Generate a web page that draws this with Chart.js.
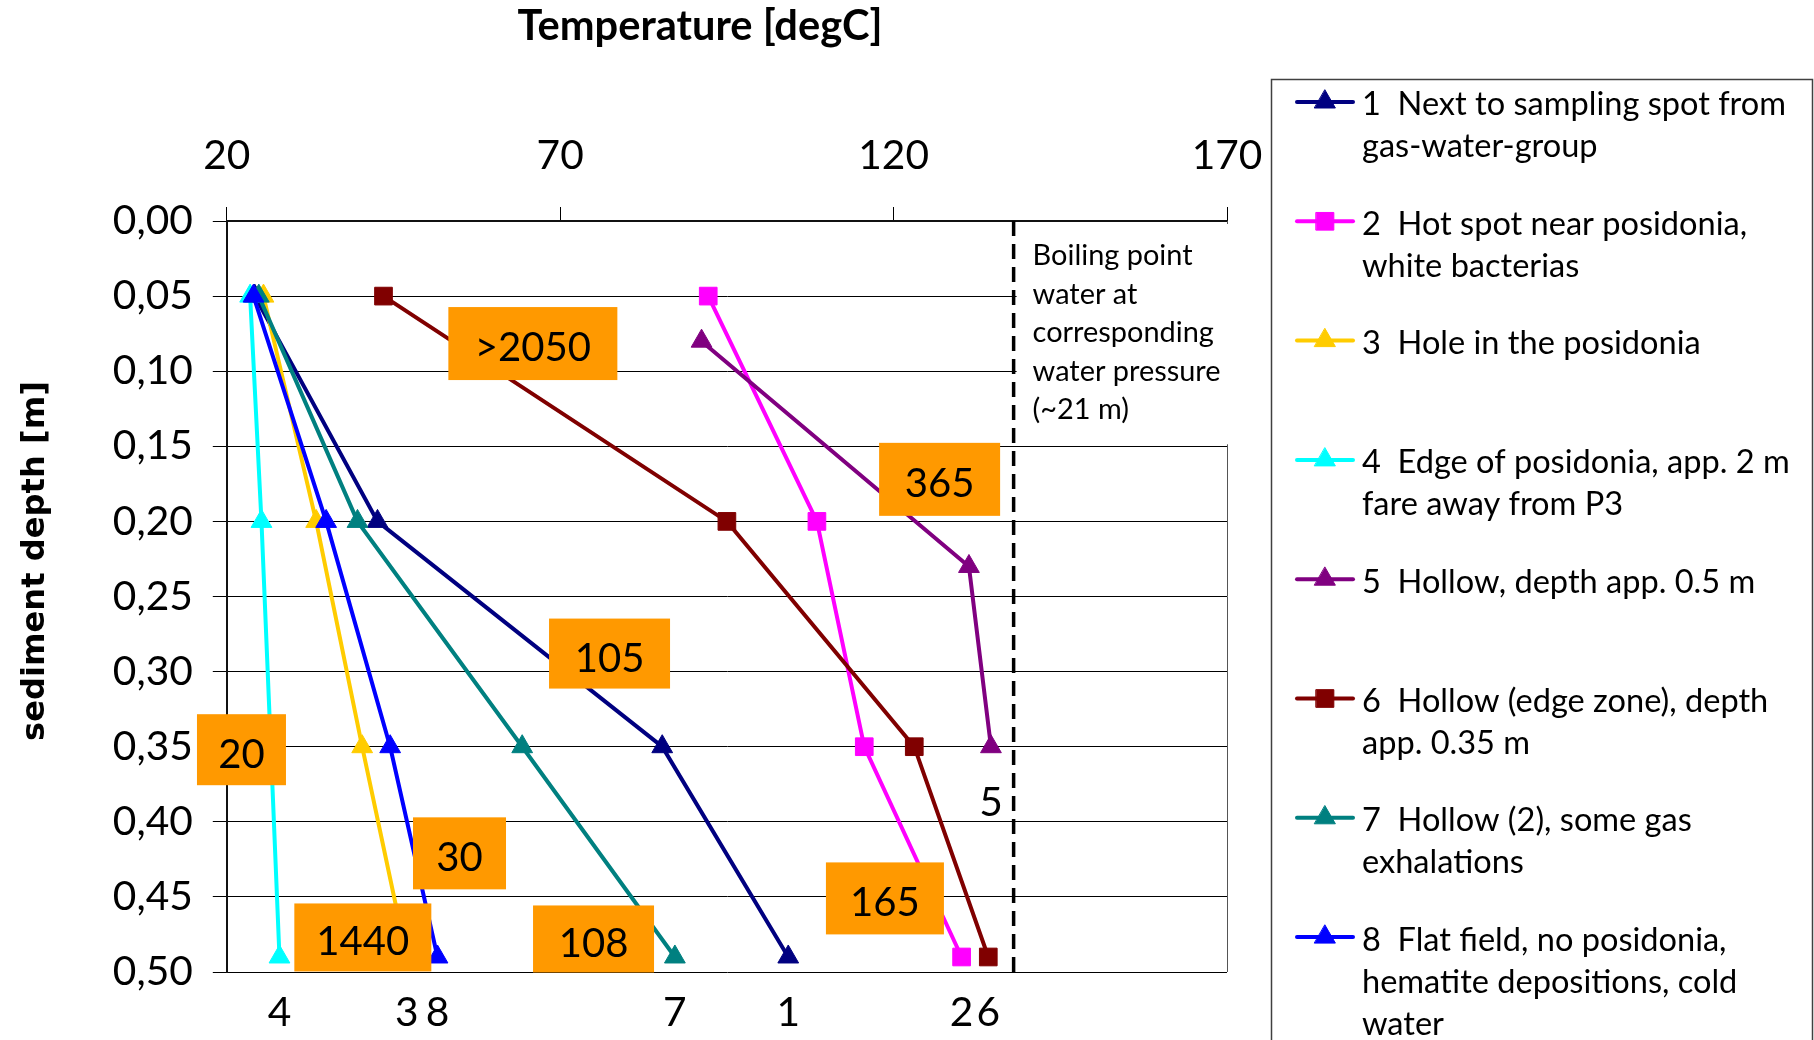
<!DOCTYPE html>
<html>
<head>
<meta charset="utf-8">
<script src="https://cdn.jsdelivr.net/npm/chart.js@4/dist/chart.umd.min.js"></script>
<style>
html,body{margin:0;padding:0;background:#fff;}
#wrap{width:1814px;height:1040px;position:relative;}
</style>
</head>
<body>
<div id="wrap"><canvas id="c"></canvas></div>
<script>
// ---------------- data ----------------
const xTickValues = [20, 70, 120, 170];
const yTickValues = [0, 0.05, 0.10, 0.15, 0.20, 0.25, 0.30, 0.35, 0.40, 0.45, 0.50];
const yTickLabels = ['0,00','0,05','0,10','0,15','0,20','0,25','0,30','0,35','0,40','0,45','0,50'];

const xTitle = 'Temperature [degC]';
const yTitle = 'sediment depth [m]';

const seriesIds = ['1','2','3','4','5','6','7','8'];
const seriesNames = [
  ['1  Next to sampling spot from', 'gas-water-group'],
  ['2  Hot spot near posidonia,', 'white bacterias'],
  ['3  Hole in the posidonia'],
  ['4  Edge of posidonia, app. 2 m', 'fare away from P3'],
  ['5  Hollow, depth app. 0.5 m'],
  ['6  Hollow (edge zone), depth', 'app. 0.35 m'],
  ['7  Hollow (2), some gas', 'exhalations'],
  ['8  Flat field, no posidonia,', 'hematite depositions, cold', 'water']
];

const depthStd    = [0.05, 0.20, 0.35, 0.49];
const depthHollow = [0.08, 0.23, 0.35];

const temp1 = [24.2, 42.6, 85.3, 104.2];
const temp2 = [92.2, 108.5, 115.6, 130.2];
const temp3 = [25.5, 33.4, 40.3, 47.0];
const temp4 = [23.5, 25.2, 26.6, 27.9];
const temp5 = [91.2, 131.3, 134.6];
const temp6 = [43.5, 95.0, 123.1, 134.2];
const temp7 = [24.8, 39.6, 64.3, 87.2];
const temp8 = [24.0, 34.9, 44.5, 51.6];

const boilingTemp  = [138, 138];
const boilingDepth = [0, 0.5];
const boilingNote  = ['Boiling point', 'water at', 'corresponding', 'water pressure', '(~21 m)'];

const noteLabels = ['>2050', '365', '105', '20', '30', '1440', '108', '165'];
const noteTemps  = [65.9, 126.9, 77.4, 22.2, 54.9, 40.4, 75.0, 118.7];
const noteDepths = [0.0816, 0.172, 0.288, 0.352, 0.421, 0.477, 0.478, 0.451];

// ---------------- styles ----------------
const seriesTemps  = [temp1, temp2, temp3, temp4, temp5, temp6, temp7, temp8];
const seriesDepths = [depthStd, depthStd, depthStd, depthStd, depthHollow, depthStd, depthStd, depthStd];
const seriesColors = ['#000080', '#FF00FF', '#FFCC00', '#00FFFF', '#800080', '#800000', '#008080', '#0000FF'];
const seriesShapes = ['triangle', 'rect', 'triangle', 'triangle', 'triangle', 'rect', 'triangle', 'triangle'];
const noteBoxW = [169, 121, 121, 89, 93, 137, 121, 118];
const noteBoxH = [73, 73, 70, 71, 72, 68, 67, 72];
const TRI_R = 12, RECT_R = 12.5, LINE_W = 4;

function fitSize(text, weight, family, target) {
  const cv = document.createElement('canvas').getContext('2d');
  cv.font = weight + ' 100px ' + family;
  return 100 * target / cv.measureText(text).width;
}
const tickSize   = fitSize('0,50', 'normal', 'Lato', 80);
const legendSize = fitSize(seriesNames[0][0], 'normal', 'Lato', 424);
const noteSize   = fitSize('1440', 'normal', 'Lato', 93);
const boilSize   = fitSize('water pressure', 'normal', 'Lato', 188);
const titleSize  = fitSize(xTitle, 'bold', 'Lato', 365);
const yTitleSize = fitSize(yTitle, 'bold', '"DejaVu Sans"', 360);

function drawMarker(ctx, shape, color, x, y) {
  ctx.save();
  ctx.fillStyle = color; ctx.strokeStyle = color; ctx.lineWidth = 1;
  ctx.beginPath();
  if (shape === 'rect') {
    const s = Math.SQRT1_2 * RECT_R;
    ctx.rect(x - s, y - s, 2 * s, 2 * s);
  } else {
    const r = TRI_R;
    ctx.moveTo(x, y - r);
    ctx.lineTo(x + Math.sin(2 * Math.PI / 3) * r, y - Math.cos(2 * Math.PI / 3) * r);
    ctx.lineTo(x + Math.sin(4 * Math.PI / 3) * r, y - Math.cos(4 * Math.PI / 3) * r);
    ctx.closePath();
  }
  ctx.fill(); ctx.stroke();
  ctx.restore();
}

const datasets = seriesTemps.map((temps, i) => ({
  label: seriesNames[i].join(' '),
  data: temps.map((t, k) => ({ x: t, y: seriesDepths[i][k] })),
  showLine: true,
  borderColor: seriesColors[i],
  backgroundColor: seriesColors[i],
  pointBackgroundColor: seriesColors[i],
  pointBorderColor: seriesColors[i],
  pointBorderWidth: 1,
  pointStyle: seriesShapes[i],
  pointRadius: seriesShapes[i] === 'rect' ? RECT_R : TRI_R,
  borderWidth: LINE_W,
  tension: 0,
  clip: false,
  order: seriesTemps.length - i
}));
datasets.push({
  label: 'boiling',
  data: boilingTemp.map((t, k) => ({ x: t, y: boilingDepth[k] })),
  showLine: true,
  borderColor: '#000',
  borderWidth: 3.5,
  borderDash: [15, 8],
  pointRadius: 0,
  clip: false,
  order: 100
});

const decor = {
  id: 'decor',
  beforeDatasetsDraw(chart) {
    const { ctx, chartArea: a, scales: { x, y } } = chart;
    ctx.save();
    ctx.strokeStyle = '#555'; ctx.lineWidth = 1;
    ctx.beginPath(); ctx.moveTo(a.right + 0.5, a.top); ctx.lineTo(a.right + 0.5, a.bottom); ctx.stroke();
    const bx = x.getPixelForValue(boilingTemp[0]) + 3;
    ctx.fillStyle = '#fff';
    ctx.fillRect(bx, a.top + 3, a.right + 8 - bx, y.getPixelForValue(0.15) - a.top - 5);
    ctx.restore();
  },
  afterDatasetsDraw(chart) {
    const { ctx, chartArea: a, scales: { x, y } } = chart;
    ctx.save();
    ctx.fillStyle = '#000';
    ctx.font = 'normal ' + boilSize + 'px Lato';
    ctx.textAlign = 'left'; ctx.textBaseline = 'alphabetic';
    const bx = x.getPixelForValue(boilingTemp[0]) + 19;
    boilingNote.forEach((t, k) => ctx.fillText(t, bx, a.top + 44 + k * 38.6));

    noteLabels.forEach((t, i) => {
      const cx = x.getPixelForValue(noteTemps[i]);
      const cy = y.getPixelForValue(noteDepths[i]);
      ctx.fillStyle = '#FF9900';
      ctx.fillRect(cx - noteBoxW[i] / 2, cy - noteBoxH[i] / 2, noteBoxW[i], noteBoxH[i]);
      ctx.fillStyle = '#000';
      ctx.font = 'normal ' + noteSize + 'px Lato';
      ctx.textAlign = 'center'; ctx.textBaseline = 'middle';
      ctx.fillText(t, cx, cy + 5);
    });

    ctx.font = 'normal ' + tickSize + 'px Lato';
    ctx.textAlign = 'center'; ctx.textBaseline = 'middle';
    seriesTemps.forEach((temps, i) => {
      const n = temps.length - 1;
      const px = x.getPixelForValue(temps[n]);
      const py = y.getPixelForValue(seriesDepths[i][n]);
      ctx.fillText(seriesIds[i], px, py + 56);
    });

    ctx.font = 'bold ' + titleSize + 'px Lato';
    ctx.textAlign = 'center'; ctx.textBaseline = 'alphabetic';
    ctx.fillText(xTitle, 700, 40);
    ctx.save();
    ctx.translate(36, 561);
    ctx.rotate(-Math.PI / 2);
    ctx.font = 'bold ' + yTitleSize + 'px "DejaVu Sans"';
    ctx.textBaseline = 'middle';
    ctx.fillText(yTitle, 0, 0);
    ctx.restore();

    ctx.strokeStyle = '#404040'; ctx.lineWidth = 1.5;
    ctx.strokeRect(1271.5, 79.5, 541, 1000);
    ctx.font = 'normal ' + legendSize + 'px Lato';
    ctx.textAlign = 'left'; ctx.textBaseline = 'middle';
    seriesNames.forEach((lines, i) => {
      const ly = 105 + i * 119.3;
      ctx.strokeStyle = seriesColors[i]; ctx.lineWidth = 4; ctx.lineCap = 'round';
      ctx.beginPath(); ctx.moveTo(1297, ly - 3); ctx.lineTo(1353, ly - 3); ctx.stroke();
      drawMarker(ctx, seriesShapes[i], seriesColors[i], 1325, ly - 3);
      ctx.fillStyle = '#000';
      lines.forEach((t, k) => ctx.fillText(t, 1362, ly + k * 42));
    });
    ctx.restore();
  }
};

new Chart(document.getElementById('c'), {
  type: 'scatter',
  data: { datasets },
  options: {
    responsive: true,
    maintainAspectRatio: false,
    animation: false,
    layout: { padding: { left: 0, top: 0, right: 587, bottom: 68 } },
    plugins: { legend: { display: false }, tooltip: { enabled: false } },
    scales: {
      x: {
        type: 'linear', position: 'top', min: 20, max: 170,
        afterFit: s => { s.height = 221; },
        afterBuildTicks: s => { s.ticks = xTickValues.map(v => ({ value: v })); },
        grid: { display: true, drawOnChartArea: false, drawTicks: true, tickLength: 14, color: '#000', lineWidth: 1 },
        border: { display: true, color: '#111', width: 2 },
        ticks: { color: '#000', font: { family: 'Lato', size: tickSize }, padding: 27, maxRotation: 0, autoSkip: false }
      },
      y: {
        type: 'linear', reverse: true, min: 0, max: 0.5,
        afterFit: s => { s.width = 226.8; },
        afterBuildTicks: s => { s.ticks = yTickValues.map(v => ({ value: v })); },
        grid: { display: true, drawOnChartArea: true, drawTicks: true, tickLength: 14, color: '#000', lineWidth: 1 },
        border: { display: true, color: '#111', width: 2 },
        ticks: {
          color: '#000', font: { family: 'Lato', size: tickSize }, padding: 20, autoSkip: false,
          callback: (v, idx) => yTickLabels[idx]
        }
      }
    }
  },
  plugins: [decor]
});
</script>
</body>
</html>
